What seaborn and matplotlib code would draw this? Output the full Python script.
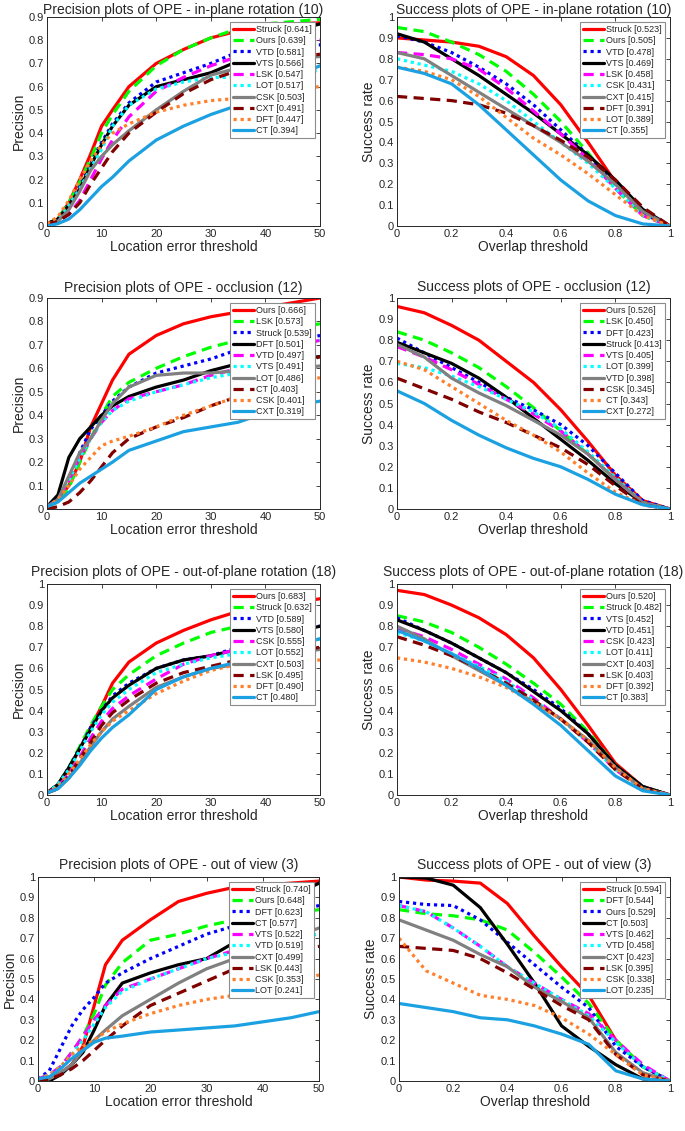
import numpy as np
import pandas as pd
import matplotlib
matplotlib.use("Agg")
import matplotlib.pyplot as plt
import seaborn as sns
from matplotlib.ticker import FuncFormatter

sns.set_style("white")
plt.rcParams['font.family'] = ['Liberation Sans', 'DejaVu Sans']

# ---------------- data ----------------
prec_x = [0, 2, 4, 6, 8, 10, 12, 15, 20, 25, 30, 35, 40, 45, 50]
succ_x = [0, 0.1, 0.2, 0.3, 0.4, 0.5, 0.6, 0.7, 0.8, 0.9, 1.0]

# Panel 1: precision, in-plane rotation (10)
p1_title = "Precision plots of OPE - in-plane rotation (10)"
p1_names = ["Struck", "Ours", "VTD", "VTS", "LSK", "LOT", "CSK", "CXT", "DFT", "CT"]
p1_scores = ["0.641", "0.639", "0.581", "0.566", "0.547", "0.517", "0.503", "0.491", "0.447", "0.394"]
p1_vals = [
    [0.01, 0.03, 0.10, 0.20, 0.31, 0.43, 0.50, 0.60, 0.70, 0.76, 0.81, 0.84, 0.86, 0.87, 0.875],
    [0.01, 0.03, 0.10, 0.19, 0.29, 0.40, 0.48, 0.58, 0.69, 0.76, 0.81, 0.85, 0.87, 0.88, 0.89],
    [0.01, 0.03, 0.09, 0.17, 0.27, 0.36, 0.44, 0.53, 0.62, 0.66, 0.70, 0.75, 0.77, 0.78, 0.78],
    [0.01, 0.03, 0.09, 0.16, 0.26, 0.35, 0.43, 0.52, 0.60, 0.63, 0.66, 0.71, 0.78, 0.84, 0.87],
    [0.01, 0.02, 0.05, 0.11, 0.20, 0.29, 0.37, 0.47, 0.58, 0.64, 0.69, 0.73, 0.77, 0.79, 0.80],
    [0.01, 0.03, 0.09, 0.16, 0.25, 0.33, 0.43, 0.52, 0.59, 0.62, 0.64, 0.64, 0.64, 0.66, 0.67],
    [0.01, 0.02, 0.07, 0.15, 0.24, 0.30, 0.35, 0.41, 0.50, 0.58, 0.65, 0.68, 0.70, 0.72, 0.73],
    [0.01, 0.02, 0.05, 0.10, 0.18, 0.25, 0.32, 0.40, 0.49, 0.57, 0.63, 0.67, 0.70, 0.72, 0.74],
    [0.01, 0.04, 0.11, 0.20, 0.28, 0.35, 0.40, 0.44, 0.49, 0.52, 0.54, 0.55, 0.57, 0.59, 0.60],
    [0.00, 0.01, 0.03, 0.07, 0.12, 0.17, 0.21, 0.28, 0.37, 0.43, 0.48, 0.52, 0.58, 0.64, 0.69],
]

# Panel 2: success, in-plane rotation (10)
p2_title = "Success plots of OPE - in-plane rotation (10)"
p2_names = ["Struck", "Ours", "VTD", "VTS", "LSK", "CSK", "CXT", "DFT", "LOT", "CT"]
p2_scores = ["0.523", "0.505", "0.478", "0.469", "0.458", "0.431", "0.415", "0.391", "0.389", "0.355"]
p2_vals = [
    [0.90, 0.89, 0.88, 0.86, 0.81, 0.72, 0.58, 0.40, 0.21, 0.06, 0.0],
    [0.95, 0.93, 0.88, 0.82, 0.74, 0.63, 0.50, 0.35, 0.18, 0.05, 0.0],
    [0.91, 0.88, 0.83, 0.76, 0.68, 0.58, 0.46, 0.34, 0.20, 0.06, 0.0],
    [0.92, 0.88, 0.80, 0.72, 0.63, 0.54, 0.44, 0.34, 0.22, 0.08, 0.0],
    [0.83, 0.82, 0.80, 0.75, 0.66, 0.55, 0.44, 0.32, 0.18, 0.05, 0.0],
    [0.80, 0.77, 0.74, 0.68, 0.60, 0.50, 0.40, 0.30, 0.18, 0.05, 0.0],
    [0.83, 0.80, 0.72, 0.64, 0.56, 0.48, 0.40, 0.31, 0.20, 0.07, 0.0],
    [0.62, 0.61, 0.60, 0.58, 0.54, 0.48, 0.41, 0.33, 0.22, 0.09, 0.0],
    [0.76, 0.74, 0.70, 0.62, 0.52, 0.42, 0.34, 0.25, 0.15, 0.05, 0.0],
    [0.76, 0.73, 0.68, 0.58, 0.46, 0.34, 0.22, 0.12, 0.05, 0.01, 0.0],
]

# Panel 3: precision, occlusion (12)
p3_title = "Precision plots of OPE - occlusion (12)"
p3_names = ["Ours", "LSK", "Struck", "DFT", "VTD", "VTS", "LOT", "CT", "CSK", "CXT"]
p3_scores = ["0.666", "0.573", "0.539", "0.501", "0.497", "0.491", "0.486", "0.403", "0.401", "0.319"]
p3_vals = [
    [0.01, 0.04, 0.10, 0.20, 0.35, 0.45, 0.55, 0.66, 0.74, 0.79, 0.82, 0.84, 0.86, 0.88, 0.90],
    [0.01, 0.03, 0.09, 0.20, 0.30, 0.40, 0.48, 0.54, 0.60, 0.65, 0.69, 0.72, 0.75, 0.77, 0.79],
    [0.01, 0.04, 0.12, 0.24, 0.34, 0.40, 0.46, 0.52, 0.58, 0.61, 0.64, 0.68, 0.70, 0.72, 0.74],
    [0.01, 0.06, 0.22, 0.30, 0.35, 0.40, 0.44, 0.48, 0.52, 0.55, 0.59, 0.62, 0.63, 0.64, 0.65],
    [0.01, 0.04, 0.12, 0.22, 0.30, 0.37, 0.42, 0.47, 0.50, 0.53, 0.57, 0.60, 0.65, 0.69, 0.72],
    [0.01, 0.04, 0.12, 0.22, 0.30, 0.37, 0.42, 0.46, 0.50, 0.53, 0.56, 0.58, 0.62, 0.67, 0.72],
    [0.01, 0.04, 0.14, 0.24, 0.30, 0.38, 0.45, 0.52, 0.57, 0.58, 0.58, 0.59, 0.60, 0.60, 0.61],
    [0.00, 0.01, 0.03, 0.07, 0.12, 0.18, 0.24, 0.30, 0.35, 0.39, 0.44, 0.48, 0.55, 0.61, 0.65],
    [0.01, 0.04, 0.10, 0.17, 0.22, 0.27, 0.29, 0.31, 0.35, 0.40, 0.44, 0.48, 0.52, 0.54, 0.56],
    [0.01, 0.03, 0.07, 0.11, 0.14, 0.17, 0.20, 0.25, 0.29, 0.33, 0.35, 0.37, 0.41, 0.44, 0.46],
]

# Panel 4: success, occlusion (12)
p4_title = "Success plots of OPE - occlusion (12)"
p4_names = ["Ours", "LSK", "DFT", "Struck", "VTS", "LOT", "VTD", "CSK", "CT", "CXT"]
p4_scores = ["0.526", "0.450", "0.423", "0.413", "0.405", "0.399", "0.398", "0.345", "0.343", "0.272"]
p4_vals = [
    [0.96, 0.93, 0.87, 0.80, 0.70, 0.60, 0.47, 0.32, 0.16, 0.04, 0.0],
    [0.84, 0.80, 0.74, 0.67, 0.58, 0.48, 0.37, 0.26, 0.14, 0.03, 0.0],
    [0.81, 0.74, 0.67, 0.60, 0.53, 0.47, 0.40, 0.30, 0.17, 0.04, 0.0],
    [0.79, 0.74, 0.69, 0.62, 0.53, 0.43, 0.33, 0.23, 0.12, 0.03, 0.0],
    [0.77, 0.72, 0.66, 0.59, 0.52, 0.45, 0.37, 0.26, 0.14, 0.03, 0.0],
    [0.69, 0.67, 0.63, 0.58, 0.52, 0.46, 0.38, 0.27, 0.15, 0.03, 0.0],
    [0.78, 0.72, 0.62, 0.55, 0.49, 0.42, 0.35, 0.26, 0.14, 0.03, 0.0],
    [0.62, 0.57, 0.52, 0.46, 0.41, 0.35, 0.29, 0.21, 0.11, 0.02, 0.0],
    [0.70, 0.66, 0.58, 0.50, 0.42, 0.35, 0.27, 0.17, 0.08, 0.02, 0.0],
    [0.56, 0.50, 0.42, 0.35, 0.29, 0.24, 0.20, 0.14, 0.07, 0.02, 0.0],
]

# Panel 5: precision, out-of-plane rotation (18)
p5_title = "Precision plots of OPE - out-of-plane rotation (18)"
p5_names = ["Ours", "Struck", "VTD", "VTS", "CSK", "LOT", "CXT", "LSK", "DFT", "CT"]
p5_scores = ["0.683", "0.632", "0.589", "0.580", "0.555", "0.552", "0.503", "0.495", "0.490", "0.480"]
p5_vals = [
    [0.01, 0.04, 0.12, 0.22, 0.32, 0.42, 0.53, 0.63, 0.72, 0.78, 0.83, 0.87, 0.89, 0.91, 0.93],
    [0.01, 0.05, 0.13, 0.23, 0.33, 0.42, 0.50, 0.57, 0.66, 0.72, 0.77, 0.80, 0.82, 0.83, 0.84],
    [0.01, 0.05, 0.13, 0.22, 0.32, 0.40, 0.47, 0.53, 0.60, 0.64, 0.66, 0.70, 0.75, 0.78, 0.80],
    [0.01, 0.05, 0.13, 0.22, 0.31, 0.40, 0.46, 0.52, 0.60, 0.64, 0.66, 0.69, 0.73, 0.77, 0.80],
    [0.01, 0.04, 0.10, 0.18, 0.27, 0.35, 0.41, 0.47, 0.55, 0.62, 0.66, 0.69, 0.70, 0.71, 0.72],
    [0.01, 0.05, 0.12, 0.21, 0.30, 0.38, 0.44, 0.50, 0.58, 0.62, 0.65, 0.67, 0.70, 0.72, 0.74],
    [0.01, 0.03, 0.08, 0.15, 0.23, 0.30, 0.36, 0.42, 0.51, 0.56, 0.60, 0.62, 0.64, 0.67, 0.69],
    [0.01, 0.03, 0.09, 0.17, 0.25, 0.33, 0.39, 0.45, 0.53, 0.58, 0.61, 0.64, 0.65, 0.68, 0.70],
    [0.01, 0.04, 0.10, 0.17, 0.24, 0.30, 0.35, 0.40, 0.48, 0.54, 0.59, 0.62, 0.63, 0.63, 0.64],
    [0.01, 0.03, 0.08, 0.14, 0.21, 0.27, 0.32, 0.38, 0.50, 0.56, 0.60, 0.63, 0.67, 0.71, 0.74],
]

# Panel 6: success, out-of-plane rotation (18)
p6_title = "Success plots of OPE - out-of-plane rotation (18)"
p6_names = ["Ours", "Struck", "VTS", "VTD", "CSK", "LOT", "CXT", "LSK", "DFT", "CT"]
p6_scores = ["0.520", "0.482", "0.452", "0.451", "0.423", "0.411", "0.403", "0.403", "0.392", "0.383"]
p6_vals = [
    [0.97, 0.95, 0.90, 0.84, 0.76, 0.65, 0.50, 0.33, 0.15, 0.04, 0.0],
    [0.85, 0.82, 0.77, 0.70, 0.62, 0.53, 0.43, 0.30, 0.14, 0.04, 0.0],
    [0.84, 0.78, 0.72, 0.65, 0.58, 0.50, 0.41, 0.29, 0.14, 0.04, 0.0],
    [0.83, 0.78, 0.72, 0.65, 0.58, 0.49, 0.40, 0.29, 0.14, 0.04, 0.0],
    [0.79, 0.75, 0.69, 0.62, 0.55, 0.46, 0.36, 0.25, 0.12, 0.03, 0.0],
    [0.77, 0.73, 0.67, 0.61, 0.54, 0.45, 0.36, 0.25, 0.12, 0.03, 0.0],
    [0.80, 0.74, 0.66, 0.59, 0.52, 0.44, 0.36, 0.26, 0.13, 0.03, 0.0],
    [0.75, 0.71, 0.66, 0.60, 0.53, 0.45, 0.36, 0.25, 0.12, 0.03, 0.0],
    [0.65, 0.63, 0.60, 0.56, 0.51, 0.44, 0.36, 0.26, 0.13, 0.03, 0.0],
    [0.78, 0.73, 0.67, 0.60, 0.52, 0.43, 0.33, 0.21, 0.09, 0.02, 0.0],
]

# Panel 7: precision, out of view (3)
p7_title = "Precision plots of OPE - out of view (3)"
p7_names = ["Struck", "Ours", "DFT", "CT", "VTS", "VTD", "CXT", "LSK", "CSK", "LOT"]
p7_scores = ["0.740", "0.648", "0.623", "0.577", "0.522", "0.519", "0.499", "0.443", "0.353", "0.241"]
p7_vals = [
    [0.01, 0.02, 0.04, 0.08, 0.17, 0.37, 0.57, 0.69, 0.79, 0.88, 0.92, 0.95, 0.96, 0.97, 0.98],
    [0.01, 0.03, 0.07, 0.14, 0.22, 0.33, 0.47, 0.58, 0.69, 0.72, 0.76, 0.79, 0.81, 0.82, 0.84],
    [0.01, 0.05, 0.16, 0.27, 0.35, 0.41, 0.48, 0.53, 0.60, 0.66, 0.72, 0.76, 0.80, 0.83, 0.86],
    [0.00, 0.00, 0.03, 0.08, 0.14, 0.25, 0.37, 0.48, 0.53, 0.57, 0.60, 0.68, 0.78, 0.90, 0.97],
    [0.01, 0.03, 0.07, 0.14, 0.22, 0.30, 0.37, 0.45, 0.50, 0.55, 0.60, 0.64, 0.68, 0.70, 0.72],
    [0.01, 0.03, 0.07, 0.13, 0.20, 0.28, 0.36, 0.44, 0.50, 0.55, 0.60, 0.63, 0.67, 0.70, 0.72],
    [0.00, 0.01, 0.04, 0.08, 0.15, 0.20, 0.25, 0.32, 0.40, 0.48, 0.55, 0.60, 0.64, 0.70, 0.75],
    [0.00, 0.01, 0.03, 0.06, 0.10, 0.15, 0.20, 0.27, 0.37, 0.43, 0.49, 0.55, 0.60, 0.64, 0.66],
    [0.01, 0.03, 0.07, 0.13, 0.17, 0.20, 0.24, 0.28, 0.33, 0.37, 0.40, 0.42, 0.44, 0.48, 0.52],
    [0.01, 0.02, 0.06, 0.11, 0.15, 0.19, 0.21, 0.22, 0.24, 0.25, 0.26, 0.27, 0.29, 0.31, 0.34],
]

# Panel 8: success, out of view (3)
p8_title = "Success plots of OPE - out of view (3)"
p8_names = ["Struck", "DFT", "Ours", "CT", "VTS", "VTD", "CXT", "LSK", "CSK", "LOT"]
p8_scores = ["0.594", "0.544", "0.529", "0.503", "0.462", "0.458", "0.423", "0.395", "0.338", "0.235"]
p8_vals = [
    [1.00, 0.985, 0.98, 0.97, 0.87, 0.71, 0.56, 0.42, 0.20, 0.07, 0.0],
    [0.84, 0.82, 0.81, 0.79, 0.74, 0.63, 0.51, 0.38, 0.20, 0.07, 0.0],
    [0.88, 0.865, 0.86, 0.79, 0.68, 0.57, 0.46, 0.36, 0.17, 0.07, 0.0],
    [1.00, 0.995, 0.96, 0.85, 0.67, 0.48, 0.27, 0.17, 0.08, 0.01, 0.0],
    [0.86, 0.83, 0.75, 0.66, 0.56, 0.48, 0.40, 0.33, 0.20, 0.08, 0.0],
    [0.86, 0.83, 0.75, 0.66, 0.56, 0.48, 0.40, 0.32, 0.19, 0.07, 0.0],
    [0.79, 0.74, 0.69, 0.62, 0.56, 0.46, 0.39, 0.31, 0.14, 0.04, 0.0],
    [0.66, 0.65, 0.64, 0.60, 0.53, 0.45, 0.37, 0.30, 0.13, 0.03, 0.0],
    [0.70, 0.54, 0.48, 0.42, 0.40, 0.37, 0.31, 0.23, 0.13, 0.03, 0.0],
    [0.38, 0.36, 0.34, 0.31, 0.30, 0.27, 0.23, 0.18, 0.05, 0.01, 0.0],
]

# ---------------- styles (by rank) ----------------
colors = ["#ff0000", "#00ff00", "#0000ff", "#000000", "#ff00ff",
          "#00ffff", "#808080", "#800000", "#ff7f2a", "#1ba1e2"]
DASH = (0, (3.2, 2.0))
DOT = (0, (1.0, 1.2))
styles = ["-", DASH, DOT, "-", DASH, DOT, "-", DASH, DOT, "-"]

W, H = 685.0, 1131.0
fig = plt.figure(figsize=(W / 100, H / 100), dpi=100)


def make_ax(l, t, r, b):
    return fig.add_axes([l / W, 1 - b / H, (r - l) / W, (b - t) / H])


def draw(ax, kind, title, names, scores, vals, ytop, tpad):
    xs = prec_x if kind == "p" else succ_x
    for i, (n, s, v) in enumerate(zip(names, scores, vals)):
        df = pd.DataFrame({"x": xs, "y": v})
        sns.lineplot(data=df, x="x", y="y", ax=ax, color=colors[i],
                     linestyle=styles[i], linewidth=2.3,
                     label=f"{n} [{s}]", estimator=None)
    if kind == "p":
        ax.set_xlim(0, 50)
        ax.set_xticks(np.arange(0, 51, 10))
        ax.set_xlabel("Location error threshold", fontsize=10, labelpad=1)
        ax.set_ylabel("Precision", fontsize=10, labelpad=2)
    else:
        ax.set_xlim(0, 1)
        ax.set_xticks(np.arange(0, 1.01, 0.2))
        ax.set_xlabel("Overlap threshold", fontsize=10, labelpad=1)
        ax.set_ylabel("Success rate", fontsize=10, labelpad=2)
    ax.set_ylim(0, ytop)
    ax.set_yticks(np.arange(0, ytop + 0.001, 0.1))
    ax.xaxis.set_major_formatter(FuncFormatter(lambda v, p: f"{round(v, 1):g}"))
    ax.yaxis.set_major_formatter(FuncFormatter(lambda v, p: f"{round(v, 1):g}"))
    ax.tick_params(direction="in", top=True, right=True, labelsize=8,
                   length=3, width=0.6, pad=2, colors="#262626")
    for sp in ax.spines.values():
        sp.set_color("#262626")
        sp.set_linewidth(0.7)
    ax.set_title(title, fontsize=10, pad=tpad)
    leg = ax.legend(loc="upper right", fontsize=6.5, frameon=True, fancybox=False,
                    handlelength=2.4, handletextpad=0.2, labelspacing=0.25,
                    borderpad=0.3, borderaxespad=0.6, framealpha=1)
    leg.get_frame().set_edgecolor("#8c8c8c")
    leg.get_frame().set_linewidth(0.8)
    ax.grid(False)


panels = [
    ((47, 17, 320, 226), "p", p1_title, p1_names, p1_scores, p1_vals, 0.9, 2),
    ((397, 17, 670, 226), "s", p2_title, p2_names, p2_scores, p2_vals, 1.0, 2),
    ((47, 298, 320, 509), "p", p3_title, p3_names, p3_scores, p3_vals, 0.9, 4),
    ((397, 298, 670, 509), "s", p4_title, p4_names, p4_scores, p4_vals, 1.0, 5),
    ((47, 584, 320, 795), "p", p5_title, p5_names, p5_scores, p5_vals, 1.0, 6),
    ((397, 584, 670, 795), "s", p6_title, p6_names, p6_scores, p6_vals, 1.0, 6),
    ((38, 877, 319, 1081), "p", p7_title, p7_names, p7_scores, p7_vals, 1.0, 6),
    ((399, 877, 670, 1081), "s", p8_title, p8_names, p8_scores, p8_vals, 1.0, 6),
]

for box, kind, title, names, scores, vals, ytop, tpad in panels:
    ax = make_ax(*box)
    draw(ax, kind, title, names, scores, vals, ytop, tpad)

fig.savefig("out.png", dpi=100, facecolor="white")
